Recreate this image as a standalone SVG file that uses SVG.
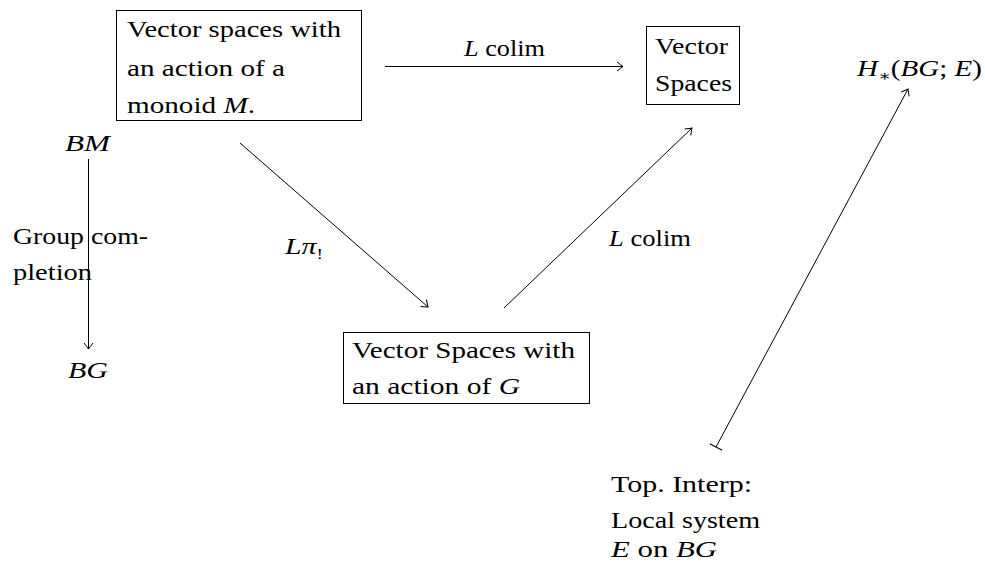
<svg xmlns="http://www.w3.org/2000/svg" width="985" height="571" viewBox="0 0 985 571">
  <style>
    text { font-family: "Liberation Serif", "DejaVu Serif", serif; font-size: 23px; fill: #000; }
    .m { font-style: italic; }
    .sub { font-size: 15px; }
    .box { fill: none; stroke: #000; stroke-width: 1; }
    .edge { fill: none; stroke: #000; stroke-width: 1; }
  </style>
  <defs>
    <!-- curved "to" arrow tip -->
    <marker id="to" markerUnits="userSpaceOnUse" viewBox="-8 -6 10 12" refX="0" refY="0" markerWidth="10" markerHeight="12" orient="auto" overflow="visible">
      <path d="M -6,-4.5 Q -1.5,-1 0,0 Q -1.5,1 -6,4.5" fill="none" stroke="#000" stroke-width="1"/>
    </marker>
    <!-- bar tail for maps-to arrows -->
    <marker id="bar" markerUnits="userSpaceOnUse" viewBox="-2 -8 4 16" refX="0" refY="0" markerWidth="4" markerHeight="16" orient="auto" overflow="visible">
      <path d="M 0,-7 L 0,7" fill="none" stroke="#000" stroke-width="1"/>
    </marker>
  </defs>

  <rect width="985" height="571" fill="#fff"/>

  <g id="monoid-modules">
    <rect class="box" x="116.5" y="10.5" width="245" height="110"/>
    <text x="127" y="37" textLength="214" lengthAdjust="spacingAndGlyphs">Vector spaces with</text>
    <text x="127" y="76" textLength="158" lengthAdjust="spacingAndGlyphs">an action of a</text>
    <text x="127" y="113" textLength="128" lengthAdjust="spacingAndGlyphs">monoid <tspan class="m">M</tspan>.</text>
  </g>

  <g id="vector-spaces">
    <rect class="box" x="646.5" y="26.5" width="93" height="78"/>
    <text x="655" y="54" textLength="73" lengthAdjust="spacingAndGlyphs">Vector</text>
    <text x="655" y="91" textLength="77" lengthAdjust="spacingAndGlyphs">Spaces</text>
  </g>

  <g id="group-modules">
    <rect class="box" x="343.5" y="332.5" width="246" height="71"/>
    <text x="352" y="358" textLength="223" lengthAdjust="spacingAndGlyphs">Vector Spaces with</text>
    <text x="352" y="394" textLength="168" lengthAdjust="spacingAndGlyphs">an action of <tspan class="m">G</tspan></text>
  </g>

  <g id="homology">
    <text x="857" y="76" textLength="125" lengthAdjust="spacingAndGlyphs"><tspan class="m">H</tspan><tspan class="sub" dy="5">∗</tspan><tspan dy="-5">(</tspan><tspan class="m">BG</tspan>;<tspan class="m"> E</tspan>)</text>
  </g>

  <g id="BM">
    <text class="m" x="65" y="151" textLength="45" lengthAdjust="spacingAndGlyphs">BM</text>
  </g>

  <g id="BG">
    <text class="m" x="68" y="378" textLength="40" lengthAdjust="spacingAndGlyphs">BG</text>
  </g>

  <g id="local-system">
    <text x="611" y="492" textLength="141" lengthAdjust="spacingAndGlyphs">Top.  Interp:</text>
    <text x="611" y="528" textLength="149" lengthAdjust="spacingAndGlyphs">Local system</text>
    <text x="611" y="557" textLength="106" lengthAdjust="spacingAndGlyphs"><tspan class="m">E</tspan> on <tspan class="m">BG</tspan></text>
  </g>

  <g id="connectors">
    <line class="edge" x1="385" y1="66.5" x2="623" y2="66.5" marker-end="url(#to)"/>
    <line class="edge" x1="88.5" y1="159" x2="88.5" y2="349" marker-end="url(#to)"/>
    <line class="edge" x1="240" y1="143" x2="428" y2="307" marker-end="url(#to)"/>
    <line class="edge" x1="504" y1="308" x2="692" y2="128" marker-end="url(#to)"/>
    <line class="edge" x1="716" y1="447" x2="908" y2="89" marker-start="url(#bar)" marker-end="url(#to)"/>

    <text x="464" y="56" textLength="81" lengthAdjust="spacingAndGlyphs"><tspan class="m">L</tspan> colim</text>
    <text x="13" y="244" textLength="135" lengthAdjust="spacingAndGlyphs">Group com-</text>
    <text x="13" y="280" textLength="79" lengthAdjust="spacingAndGlyphs">pletion</text>
    <text x="285" y="254" textLength="38" lengthAdjust="spacingAndGlyphs"><tspan class="m">Lπ</tspan><tspan class="sub" dy="5">!</tspan></text>
    <text x="609" y="246" textLength="82" lengthAdjust="spacingAndGlyphs"><tspan class="m">L</tspan> colim</text>
  </g>
</svg>
